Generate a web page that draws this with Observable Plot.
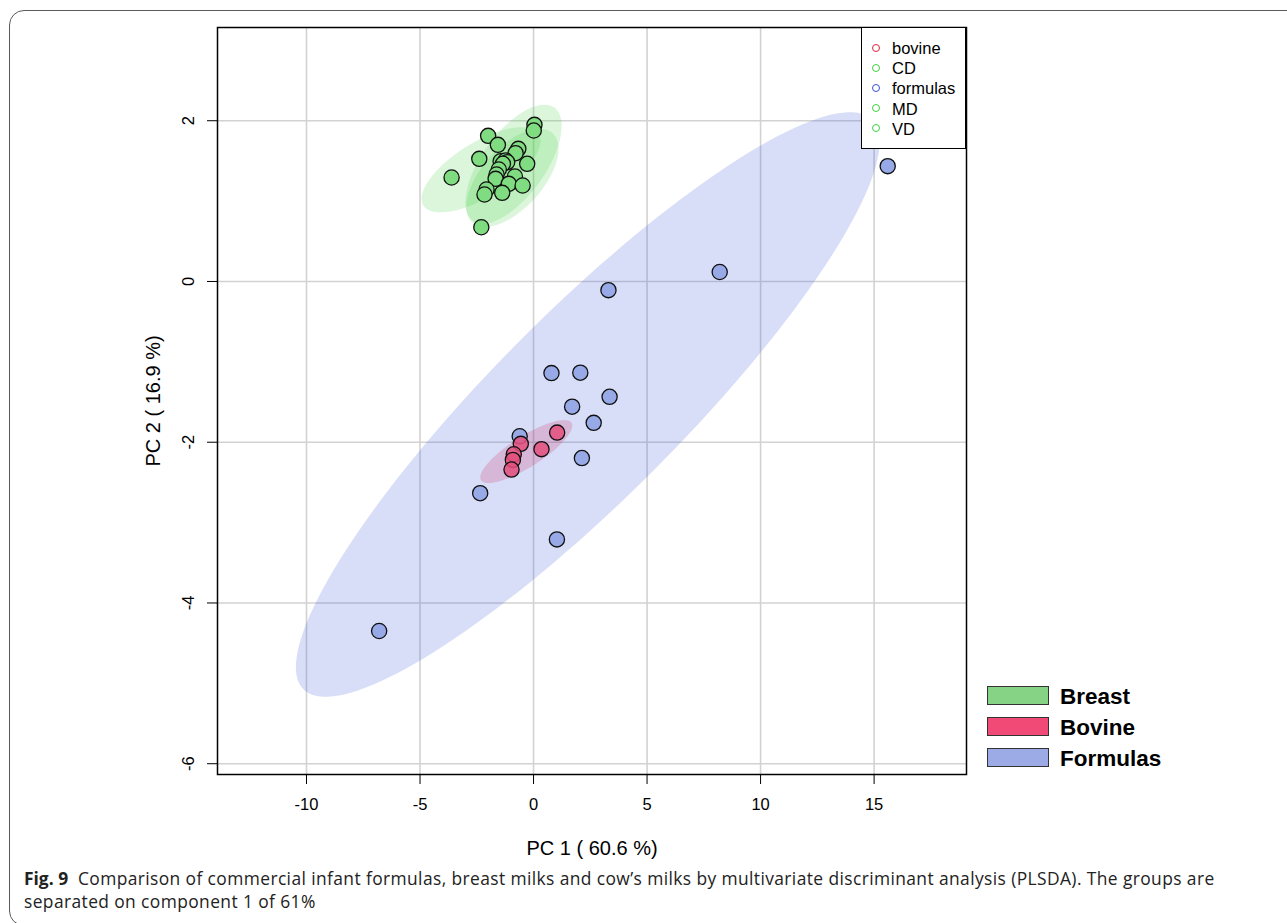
<!DOCTYPE html>
<html><head><meta charset="utf-8">
<script src="https://cdn.jsdelivr.net/npm/d3@7"></script>
<script src="https://cdn.jsdelivr.net/npm/@observablehq/plot@0.6"></script>
<style>
html,body{margin:0;padding:0;background:#fff}
body{width:1287px;height:923px;overflow:hidden;position:relative;font-family:"Liberation Sans",Arial,sans-serif}
#frame{position:absolute;left:9px;top:10px;width:1330px;height:914px;border:1.4px solid #5a5a5a;border-radius:15px}
#chart{position:absolute;left:0;top:0}
#chart g[aria-label="x-axis label"] text,#chart g[aria-label="y-axis label"] text{font-size:20px}
#leg1{position:absolute;left:861px;top:27px;width:103px;height:120px;border:1.4px solid #000;background:#fff}
.l1{position:absolute;left:0;height:20px;font-size:16.5px;line-height:20px;color:#000}
.l1 i{position:absolute;left:10px;top:5.5px;width:6px;height:6px;border-radius:50%;border:1.5px solid}
.l1 span{position:absolute;left:30px;top:0}
.l2{position:absolute;left:987px;height:19px}
.l2 i{position:absolute;left:0;top:0;width:60px;height:17px;border:1.2px solid #333}
.l2 span{position:absolute;left:73px;top:-2px;font-weight:bold;font-size:22.5px;line-height:26px;color:#000;white-space:nowrap}
#cap{position:absolute;left:24px;top:867px;width:1262px;font-family:"Open Sans",sans-serif;font-size:17.4px;line-height:23px;color:#222;letter-spacing:0.4px;white-space:nowrap}
#cap b{font-weight:700;letter-spacing:0}
</style></head><body>
<div id="frame"></div>
<div id="chart"></div>
<div id="leg1"></div>
<div id="leg2"></div>
<div id="cap"><b>Fig. 9</b>&nbsp;&nbsp;Comparison of commercial infant formulas, breast milks and cow’s milks by multivariate discriminant analysis (PLSDA). The groups are<br>separated on component 1 of 61%</div>
<script>
// ---- data ----
const xTicks = [-10, -5, 0, 5, 10, 15];
const yTicks = [-6, -4, -2, 0, 2];

const formulasX = [15.6, 8.2, 3.3, 0.79, 2.06, 3.35, 1.70, 2.65, -0.61, 2.13, -2.35, 1.03, -6.80];
const formulasY = [1.435, 0.118, -0.108, -1.14, -1.135, -1.435, -1.558, -1.759, -1.926, -2.197, -2.634, -3.209, -4.349];

const bovineX = [1.04, 0.35, -0.56, -0.87, -0.91, -0.97];
const bovineY = [-1.88, -2.086, -2.02, -2.15, -2.22, -2.34];

const breastX = [0.04, 0.01, -2.00, -1.57, -0.67, -0.79, -2.39, -0.28, -1.45, -1.23, -1.16, -1.35, -1.53, -1.63, -3.61, -1.67, -0.82, -1.09, -0.48, -2.07, -2.16, -1.38, -2.30];
const breastY = [1.949, 1.878, 1.812, 1.700, 1.650, 1.596, 1.526, 1.464, 1.496, 1.505, 1.484, 1.464, 1.393, 1.331, 1.294, 1.277, 1.306, 1.215, 1.194, 1.144, 1.082, 1.103, 0.675];

// breast-milk group ellipses (CD, MD, VD): centre, half extent in x and y, correlation
const greenNames = ["CD", "MD", "VD"];
const greenCx = [-2.31, -0.88, -0.93];
const greenCy = [1.39, 1.46, 1.29];
const greenHx = [2.62, 2.12, 2.03];
const greenHy = [0.53, 0.74, 0.61];
const greenR  = [0.68, 0.64, 0.59];

const legendTop = ["bovine", "CD", "formulas", "MD", "VD"];
const legendTopColors = ["#e8203f", "#3fd23f", "#3352dc", "#3fd23f", "#3fd23f"];
const legendBottom = ["Breast", "Bovine", "Formulas"];
const legendBottomColors = ["#86d386", "#f24a76", "#9caae6"];

// ---- helpers ----
function ellipsePts(cx, cy, hx, hy, r, g) {
  const n = 160, s = Math.sqrt(1 - r * r);
  return d3.range(n).map(i => {
    const t = 2 * Math.PI * i / n;
    return {g, x: cx + hx * Math.cos(t), y: cy + hy * (r * Math.cos(t) + s * Math.sin(t))};
  });
}
function confEllipse(xs, ys, g) {
  const mx = d3.mean(xs), my = d3.mean(ys);
  const sx = d3.deviation(xs), sy = d3.deviation(ys);
  const sxy = d3.sum(xs, (v, i) => (v - mx) * (ys[i] - my)) / (xs.length - 1);
  const k = Math.sqrt(-2 * Math.log(0.05));
  return ellipsePts(mx, my, k * sx, k * sy, sxy / (sx * sy), g);
}
const pts = (xs, ys) => xs.map((x, i) => ({x, y: ys[i]}));

const formulas = pts(formulasX, formulasY);
const bovine = pts(bovineX, bovineY);
const breast = pts(breastX, breastY);
const formulasEll = confEllipse(formulasX, formulasY, "formulas");
const bovineEll = confEllipse(bovineX, bovineY, "bovine");
const greenEll = greenNames.flatMap((g, i) => ellipsePts(greenCx[i], greenCy[i], greenHx[i], greenHy[i], greenR[i], g));

const grid = {stroke: "#d2d2d2", strokeOpacity: 1, strokeWidth: 1.6};
const dot = {x: "x", y: "y", r: 7.6, stroke: "#111", strokeWidth: 1.3};
const fmt = d => String(d);

const chart = Plot.plot({
  width: 1287, height: 870,
  marginLeft: 217, marginRight: 321, marginTop: 27, marginBottom: 96,
  x: {domain: [-13.92, 19.07]},
  y: {domain: [-6.134, 3.160]},
  style: {fontFamily: "'Liberation Sans', Arial, sans-serif", background: "transparent", color: "#000"},
  marks: [
    Plot.gridX(xTicks, grid),
    Plot.gridY(yTicks, grid),
    Plot.line(formulasEll, {x: "x", y: "y", curve: "linear-closed", fill: "#3d5ad6", fillOpacity: 0.2, stroke: "none"}),
    Plot.line(greenEll, {x: "x", y: "y", z: "g", curve: "linear-closed", fill: "#3ccf3c", fillOpacity: 0.18, stroke: "none"}),
    Plot.line(bovineEll, {x: "x", y: "y", curve: "linear-closed", fill: "#d0205a", fillOpacity: 0.2, stroke: "none"}),
    Plot.dot(breast, {...dot, fill: "#80dc80"}),
    Plot.dot(formulas, {...dot, fill: "#98a9e8"}),
    Plot.dot(bovine, {...dot, fill: "#e4507e", fillOpacity: 0.85}),
    Plot.frame({stroke: "#000", strokeWidth: 1.5}),
    Plot.axisX(xTicks, {tickSize: 10, tickPadding: 14, fontSize: 16.5, tickFormat: fmt, label: "PC 1 ( 60.6 %)", labelAnchor: "center", labelArrow: "none", labelOffset: 80}),
    Plot.axisY(yTicks, {tickSize: 10, tickPadding: 14, tickRotate: -90, fontSize: 16.5, tickFormat: fmt, label: "PC 2 ( 16.9 %)", labelAnchor: "center", labelArrow: "none", labelOffset: 72})
  ]
});
document.getElementById("chart").appendChild(chart);

// legends
const leg1 = document.getElementById("leg1");
legendTop.forEach((t, i) => {
  const d = document.createElement("div");
  d.className = "l1";
  d.style.top = (10 + i * 20.2) + "px";
  d.innerHTML = `<i style="border-color:${legendTopColors[i]}"></i><span>${t}</span>`;
  leg1.appendChild(d);
});
const leg2 = document.getElementById("leg2");
legendBottom.forEach((t, i) => {
  const d = document.createElement("div");
  d.className = "l2";
  d.style.top = (686 + i * 31) + "px";
  d.innerHTML = `<i style="background:${legendBottomColors[i]}"></i><span>${t}</span>`;
  leg2.appendChild(d);
});
</script>
</body></html>
